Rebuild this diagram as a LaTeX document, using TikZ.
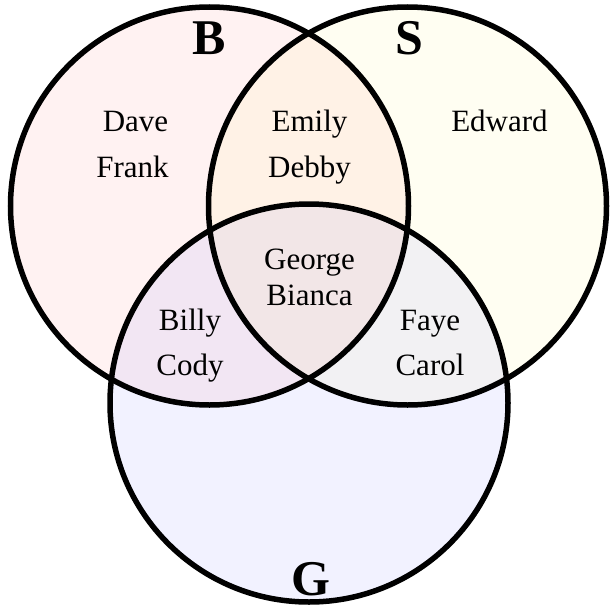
\documentclass[tikz,border=0pt]{standalone}
\usepackage{fontspec}
\setmainfont{Liberation Serif}
\begin{document}
\begin{tikzpicture}[x=1pt,y=-1pt,
  ring/.style={line width=5.5pt, draw=black},
  persontext/.style={anchor=base, inner sep=0pt, font=\fontsize{31}{31}\selectfont},
  setlab/.style={anchor=base, inner sep=0pt, font=\fontsize{50}{50}\selectfont\bfseries}]
\useasboundingbox (0,0) rectangle (610,613);
% fills
\fill[red, fill opacity=0.05] (209.5,206) circle (199);
\fill[yellow, fill opacity=0.05] (407.5,206) circle (199);
\fill[blue, fill opacity=0.05] (309,403) circle (199);
% outlines
\draw[ring] (209.5,206) circle (199);
\draw[ring] (407.5,206) circle (199);
\draw[ring] (309,403) circle (199);
% set labels
\node[setlab] (lB) at (209.5,54.5) {B};
\node[setlab] (lS) at (409.5,54.5) {S};
\node[setlab] (lG) at (310.5,595) {G};
% names
\node[persontext] (dave) at (135.5,131.5) {Dave};
\node[persontext] (frank) at (132.5,177) {Frank};
\node[persontext] (emily) at (309.5,131.5) {Emily};
\node[persontext] (debby) at (309.5,177) {Debby};
\node[persontext] (edward) at (499.5,131.5) {Edward};
\node[persontext] (george) at (309.5,269.5) {George};
\node[persontext] (bianca) at (309.5,305.5) {Bianca};
\node[persontext] (billy) at (190,330) {Billy};
\node[persontext] (cody) at (190,375.5) {Cody};
\node[persontext] (faye) at (430,330) {Faye};
\node[persontext] (carol) at (430,375.5) {Carol};
\end{tikzpicture}
\end{document}
